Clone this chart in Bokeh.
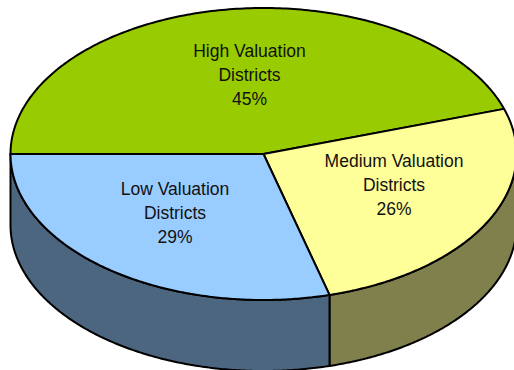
import numpy as np
from bokeh.plotting import figure
from bokeh.models import Range1d, ColumnDataSource
from bokeh.core.properties import value
from bokeh.embed import file_html
from bokeh.resources import INLINE

labels = ["High Valuation\nDistricts", "Medium Valuation\nDistricts", "Low Valuation\nDistricts"]
shares = [45.0, 25.8, 29.2]
top_colors = ["#99CC00", "#FFFF99", "#99CCFF"]
wall_colors = [None, "#80804D", "#4D6680"]

cx, cy, rx, ry, depth = 263.0, 153.5, 253.0, 146.0, 71.0
label_xy = [(249, 74), (393.5, 184), (174.5, 212)]

W, H = 514, 370
p = figure(width=W, height=H, output_backend="svg", toolbar_location=None,
           x_range=Range1d(0, W), y_range=Range1d(H, 0),
           min_border=0, outline_line_color=None)
p.axis.visible = False
p.grid.visible = False

def rim(a0, a1):
    t = np.radians(np.linspace(a0, a1, 200))
    return cx + rx * np.cos(t), cy - ry * np.sin(t)

angles = 180 - np.cumsum([0] + shares) * 3.6

# side walls: only the part of each slice below the horizon shows
wx, wy, wc = [], [], []
for i in range(len(shares)):
    if wall_colors[i] is None:
        continue
    a0, a1 = angles[i], angles[i + 1]
    a0 = min(a0, 0.0) if a0 < 90 else a0
    x, y = rim(a0, a1)
    wx.append(np.r_[x, x[::-1]])
    wy.append(np.r_[y, y[::-1] + depth])
    wc.append(wall_colors[i])
p.patches(wx, wy, fill_color=wc, line_color="black", line_width=2, line_join="round")

# top faces
tx, ty = [], []
for i in range(len(shares)):
    x, y = rim(angles[i], angles[i + 1])
    tx.append(np.r_[cx, x])
    ty.append(np.r_[cy, y])
p.patches(tx, ty, fill_color=top_colors, line_color="black", line_width=2, line_join="round")

# labels
rows = {"x": [], "y": [], "t": []}
for lab, s, (lx, ly) in zip(labels, shares, label_xy):
    for k, line in enumerate(lab.split("\n") + [f"{round(s)}%"]):
        rows["x"].append(lx)
        rows["y"].append(ly + (k - 1) * 24)
        rows["t"].append(line)
p.text("x", "y", text="t", source=ColumnDataSource(rows), text_align="center", text_baseline="middle",
       text_font=value("Liberation Sans"), text_font_size="17.5px", text_color="#111111")

open("out.html", "w").write(file_html(p, INLINE))
